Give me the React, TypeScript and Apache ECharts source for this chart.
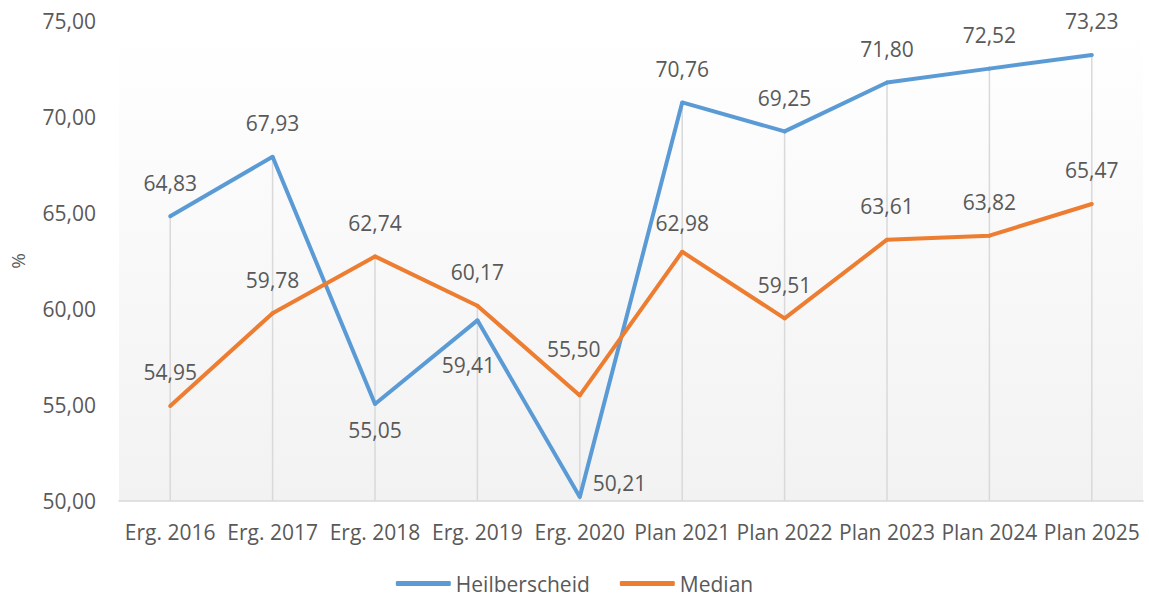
import React, { useEffect, useRef } from "react";
import * as echarts from "echarts";

const categories = [
  "Erg. 2016", "Erg. 2017", "Erg. 2018", "Erg. 2019", "Erg. 2020",
  "Plan 2021", "Plan 2022", "Plan 2023", "Plan 2024", "Plan 2025",
];
const heilberscheid = [64.83, 67.93, 55.05, 59.41, 50.21, 70.76, 69.25, 71.8, 72.52, 73.23];
const median = [54.95, 59.78, 62.74, 60.17, 55.5, 62.98, 59.51, 63.61, 63.82, 65.47];

const yMin = 50;
const yMax = 75;
const yInterval = 5;

// label placement (styling only)
const heilLabelStyle: Record<number, any> = {
  2: { position: "bottom", distance: 13 },
  3: { position: "bottom", distance: 13, offset: [-9, 19] },
  4: { position: "right", distance: 11, offset: [0, -14] },
};
const medianLabelStyle: Record<number, any> = {
  4: { offset: [-6, -13] },
  5: { offset: [0, 5] },
};

const fmt = (v: number) => v.toFixed(2).replace(".", ",");
const FONT = "'Open Sans', sans-serif";
const TEXT = "#595959";

export default function App() {
  const ref = useRef<HTMLDivElement>(null);
  useEffect(() => {
    document.body.style.margin = "0";
    if (!ref.current) return;
    const chart = echarts.init(ref.current, undefined, { renderer: "svg" });
    const dropData = categories.map((_, i) => [i, Math.max(heilberscheid[i], median[i])]);
    const mkData = (vals: number[], styles: Record<number, any>) =>
      vals.map((v, i) => (styles[i] ? { value: v, label: styles[i] } : v));
    chart.setOption({
      animation: false,
      textStyle: { fontFamily: FONT },
      grid: {
        left: 119,
        right: 6,
        top: 21,
        bottom: 96,
        outerBoundsMode: "none",
        containLabel: false,
        show: true,
        borderWidth: 0,
        backgroundColor: new echarts.graphic.LinearGradient(0, 0, 0, 1, [
          { offset: 0, color: "#ffffff" },
          { offset: 1, color: "#f2f2f2" },
        ]),
      },
      legend: {
        data: ["Heilberscheid", "Median"],
        top: 568,
        left: "center",
        icon: "roundRect",
        itemWidth: 55,
        itemHeight: 5,
        itemGap: 30,
        textStyle: { fontSize: 21, color: TEXT, fontFamily: FONT },
      },
      xAxis: {
        type: "category",
        data: categories,
        boundaryGap: true,
        axisLine: { lineStyle: { color: "#d9d9d9", width: 1.5 } },
        axisTick: { show: false },
        splitLine: { show: false },
        axisLabel: { interval: 0, fontSize: 21, color: TEXT, margin: 20, fontFamily: FONT },
      },
      yAxis: {
        type: "value",
        min: yMin,
        max: yMax,
        interval: yInterval,
        name: "%",
        nameLocation: "middle",
        nameRotate: 90,
        nameGap: 92,
        nameTextStyle: { fontSize: 19, color: TEXT, fontFamily: FONT },
        axisLine: { show: false },
        axisTick: { show: false },
        splitLine: { show: false },
        axisLabel: { fontSize: 21, color: TEXT, margin: 23, formatter: (v: number) => fmt(v), fontFamily: FONT },
      },
      series: [
        {
          type: "custom",
          name: "drop",
          z: 1,
          silent: true,
          data: dropData,
          renderItem: (params: any, api: any) => {
            const top = api.coord([api.value(0), api.value(1)]);
            const bottom = api.coord([api.value(0), yMin]);
            return {
              type: "line",
              shape: { x1: top[0], y1: top[1], x2: bottom[0], y2: bottom[1] },
              style: { stroke: "#d9d9d9", lineWidth: 1.5 },
            };
          },
        },
        {
          type: "line",
          name: "Heilberscheid",
          z: 3,
          data: mkData(heilberscheid, heilLabelStyle),
          symbol: "circle",
          symbolSize: 4,
          itemStyle: { color: "#5b9bd5" },
          lineStyle: { color: "#5b9bd5", width: 4 },
          label: {
            show: true,
            position: "top",
            distance: 21,
            fontSize: 21,
            color: TEXT,
            fontFamily: FONT,
            formatter: (p: any) => fmt(p.value),
          },
        },
        {
          type: "line",
          name: "Median",
          z: 3,
          data: mkData(median, medianLabelStyle),
          symbol: "circle",
          symbolSize: 4,
          itemStyle: { color: "#ed7d31" },
          lineStyle: { color: "#ed7d31", width: 4 },
          label: {
            show: true,
            position: "top",
            distance: 21,
            fontSize: 21,
            color: TEXT,
            fontFamily: FONT,
            formatter: (p: any) => fmt(p.value),
          },
        },
      ],
    });
    return () => chart.dispose();
  }, []);
  return <div ref={ref} style={{ width: 1149, height: 597 }} />;
}
